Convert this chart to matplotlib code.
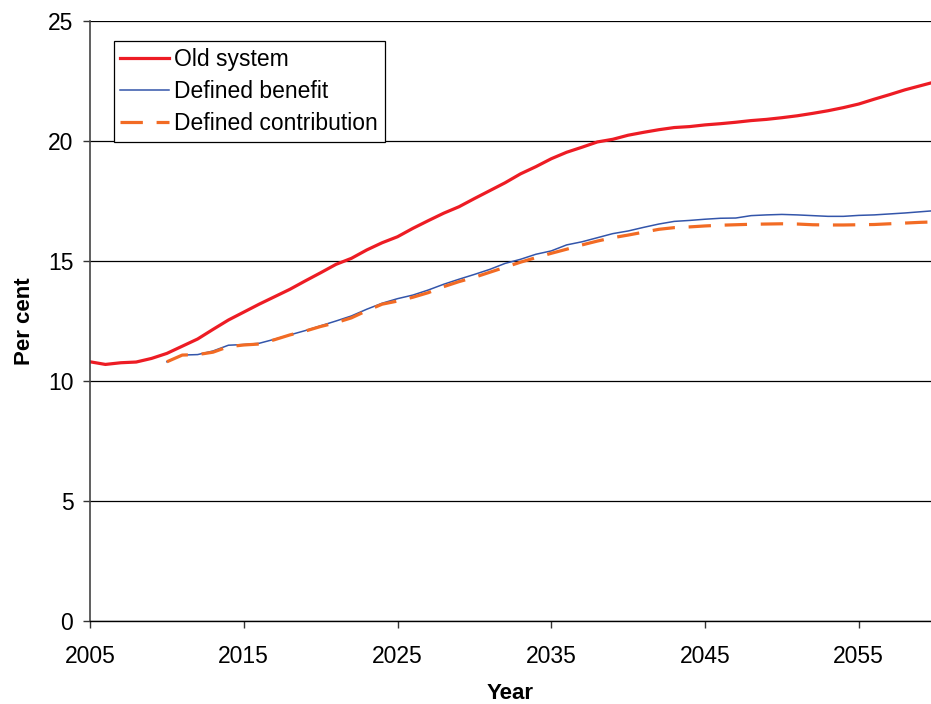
import numpy as np
import matplotlib.pyplot as plt

plt.rcParams['font.family'] = ['Liberation Sans', 'DejaVu Sans']

# Anos
anos = np.arange(2005, 2061)
anos_novos = np.arange(2010, 2061)

# Old system (2005-2060)
old_system = [
    10.80, 10.69, 10.76, 10.79, 10.94, 11.15, 11.45, 11.75, 12.15, 12.54,
    12.87, 13.20, 13.51, 13.82, 14.17, 14.51, 14.86, 15.11, 15.46, 15.76,
    16.01, 16.36, 16.68, 16.99, 17.26, 17.60, 17.93, 18.26, 18.63, 18.93,
    19.26, 19.53, 19.74, 19.96, 20.07, 20.24, 20.36, 20.47, 20.56, 20.60,
    20.67, 20.72, 20.78, 20.85, 20.90, 20.97, 21.05, 21.15, 21.26, 21.39,
    21.54, 21.74, 21.93, 22.13, 22.30, 22.47,
]

# Defined benefit (2010-2060)
defined_benefit = [
    10.80, 11.08, 11.10, 11.25, 11.49, 11.52, 11.57, 11.74, 11.92, 12.10,
    12.30, 12.50, 12.71, 12.99, 13.24, 13.43, 13.58, 13.79, 14.03, 14.24,
    14.44, 14.65, 14.90, 15.07, 15.28, 15.42, 15.67, 15.80, 15.97, 16.14,
    16.25, 16.40, 16.54, 16.65, 16.69, 16.74, 16.78, 16.79, 16.89, 16.92,
    16.94, 16.92, 16.89, 16.86, 16.86, 16.90, 16.92, 16.96, 17.00, 17.05,
    17.10,
]

# Defined contribution (2010-2060)
defined_contribution = [
    10.80, 11.08, 11.10, 11.20, 11.43, 11.50, 11.54, 11.72, 11.92, 12.08,
    12.27, 12.43, 12.63, 12.93, 13.20, 13.33, 13.49, 13.68, 13.93, 14.14,
    14.32, 14.53, 14.74, 14.95, 15.14, 15.32, 15.49, 15.67, 15.83, 15.97,
    16.08, 16.20, 16.32, 16.39, 16.42, 16.46, 16.49, 16.51, 16.53, 16.54,
    16.55, 16.54, 16.51, 16.50, 16.50, 16.51, 16.52, 16.55, 16.58, 16.61,
    16.63,
]

fig = plt.figure(figsize=(9.31, 7.04), dpi=100)
ax = fig.add_axes([0.0967, 0.1179, 0.9033, 0.8523])

ax.plot(anos, old_system, color='#ED1C24', linewidth=2.3, label='Old system')
ax.plot(anos_novos, defined_benefit, color='#3355AA', linewidth=1.1,
        label='Defined benefit')
ax.plot(anos_novos, defined_contribution, color='#F26B24', linewidth=2.3,
        dashes=(7, 4.3), label='Defined contribution')

# Eixos
ax.set_xlim(2005, 2059.7)
ax.set_ylim(0, 25)
ax.set_xticks(np.arange(2005, 2060, 10))
ax.set_yticks(np.arange(0, 26, 5))
ax.tick_params(axis='both', labelsize=16.5, direction='out', length=5,
               width=1, color='#333333')
ax.tick_params(axis='y', pad=7)
ax.tick_params(axis='x', pad=12)

ax.set_xlabel('Year', fontsize=16, fontweight='bold', labelpad=11)
ax.set_ylabel('Per cent', fontsize=16, fontweight='bold', labelpad=9)

# Grade
ax.grid(axis='y', color='black', linewidth=0.9)
ax.set_axisbelow(True)
for lado in ['top', 'right']:
    ax.spines[lado].set_visible(False)
ax.spines['left'].set_color('#444444')
ax.spines['left'].set_linewidth(1.2)
ax.spines['bottom'].set_color('black')
ax.spines['bottom'].set_linewidth(1.0)

# Legenda
leg = ax.legend(loc='upper left', bbox_to_anchor=(0.028, 0.967), fontsize=16.5,
                frameon=True, fancybox=False, framealpha=1, edgecolor='black',
                handlelength=2.1, handletextpad=0.25, borderpad=0.3,
                labelspacing=0.4, borderaxespad=0)
leg.get_frame().set_linewidth(0.9)

plt.savefig('out.png', dpi=100)
